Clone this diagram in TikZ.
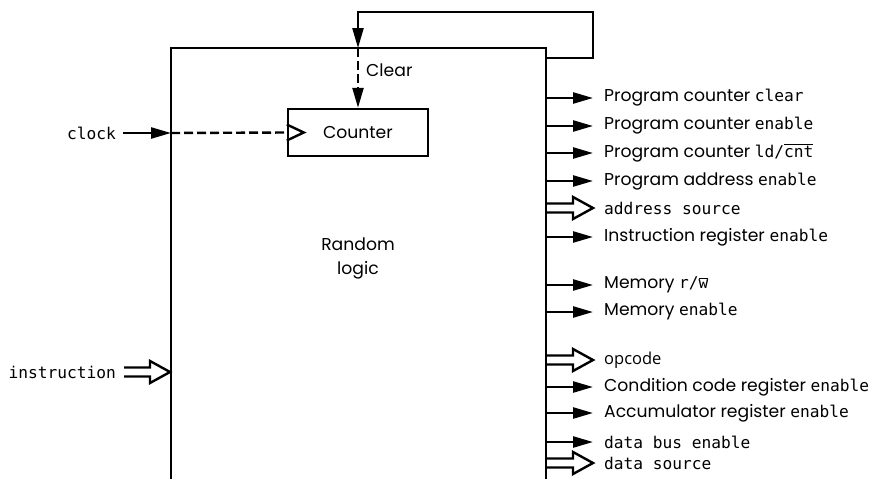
\documentclass[tikz,border=0pt]{standalone}
\usepackage{fontspec}
\setmainfont{Poppins}
\setmonofont{DejaVu Sans Mono}
\newfontfamily\opfont{Open Sans}
\usetikzlibrary{arrows.meta,calc}
\newcommand\myovl[1]{\ensuremath{\overline{\mbox{#1}}}}
\newcommand\mono[1]{{\ttfamily\fontsize{16.2}{18}\selectfont #1}}
\tikzset{
  wire/.style={line width=2.4pt, line join=miter},
  tip/.style={-{Triangle[length=20pt,width=11pt]}},
  filledarrow/.style={wire, tip},
  dashwire/.style={wire, dash pattern=on 9pt off 4pt},
  lbl/.style={anchor=west, inner sep=0pt, font=\fontsize{17.2}{19}\selectfont},
  hollowarrow/.style={wire, to path={let \p1=(\tikztostart), \p2=(\tikztotarget) in
     (\x1,{\y1+4.5pt}) -- ({\x2-20pt},{\y1+4.5pt}) -- ({\x2-20pt},{\y1+11pt}) -- (\x2,\y1)
     -- ({\x2-20pt},{\y1-11pt}) -- ({\x2-20pt},{\y1-4.5pt}) -- (\x1,{\y1-4.5pt})}}
}
\begin{document}
\begin{tikzpicture}[x=1pt,y=-1pt]
\useasboundingbox (0,0) rectangle (890,479);
% main box
\coordinate (bl) at (171,479);
\coordinate (tl) at (171,48);
\coordinate (tr) at (546,48);
\coordinate (br) at (546,479);
\draw[wire] (bl) -- (tl) -- (tr) -- (br);
\node[font=\fontsize{17.2}{24}\selectfont, align=center] (logic) at (358,258) {Random\\logic};
% counter
\node[draw, line width=2.4pt, minimum width=140pt, minimum height=47pt, inner sep=0pt,
      font=\fontsize{17.2}{19}\selectfont] (ctr) at (358,132.5) {Counter};
\draw[line width=2.4pt, line join=miter] ($(ctr.west)+(0,-8)$) -- ($(ctr.west)+(17,0)$) -- ($(ctr.west)+(0,8)$);
% clear loop
\coordinate (lo1) at (546,58);
\coordinate (lo2) at (593,58);
\coordinate (lo3) at (593,12);
\coordinate (lo4) at (358,12);
\coordinate (lo5) at (358,48);
\draw[filledarrow] (lo1) -- (lo2) -- (lo3) -- (lo4) -- (lo5);
\draw[dashwire, tip] (lo5) -- (ctr.north);
\node[lbl] (clr) at (366,70) {Clear};
% clock
\node[anchor=east, inner sep=0pt] (clk) at (116,133) {\mono{clock}};
\coordinate (clkin) at (171,133);
\draw[filledarrow] ([xshift=7pt]clk.east) -- (clkin);
\draw[dashwire] (clkin) -- (ctr.west);
% instruction
\node[anchor=east, inner sep=0pt] (ins) at (116,372) {\mono{instruction}};
\coordinate (insin) at (170,372);
\draw[hollowarrow] ([xshift=8pt]ins.east) to (insin);
% outputs
\foreach \n/\y/\t/\k in {
  1/98/{Program counter \mono{clear}}/f,
  2/126/{Program counter \mono{enable}}/f,
  3/153/{Program counter \mono{ld/}\myovl{\mono{cnt}}}/f,
  4/181/{Program address \mono{enable}}/f,
  5/208/{\mono{address source}}/h,
  6/237/{Instruction register \mono{enable}}/f,
  7/285/{Memory \mono{r/}\myovl{\mono{w}}}/f,
  8/312/{Memory \mono{enable}}/f,
  9/360/{{\opfont\fontsize{16.5}{18}\selectfont opcode}}/h,
  10/387/{Condition code register \mono{enable}}/f,
  11/413/{Accumulator register \mono{enable}}/f,
  12/442/{\mono{data bus enable}}/f,
  13/463/{\mono{data source}}/h}{
  \coordinate (s\n) at (546,\y);
  \node[lbl] (o\n) at (604,\y) {\t};
  \if\k f
    \draw[filledarrow] (s\n) -- ([xshift=-11pt]o\n.west);
  \else
    \draw[hollowarrow] (s\n) to ([xshift=-11pt]o\n.west);
  \fi
}
\end{tikzpicture}
\end{document}
